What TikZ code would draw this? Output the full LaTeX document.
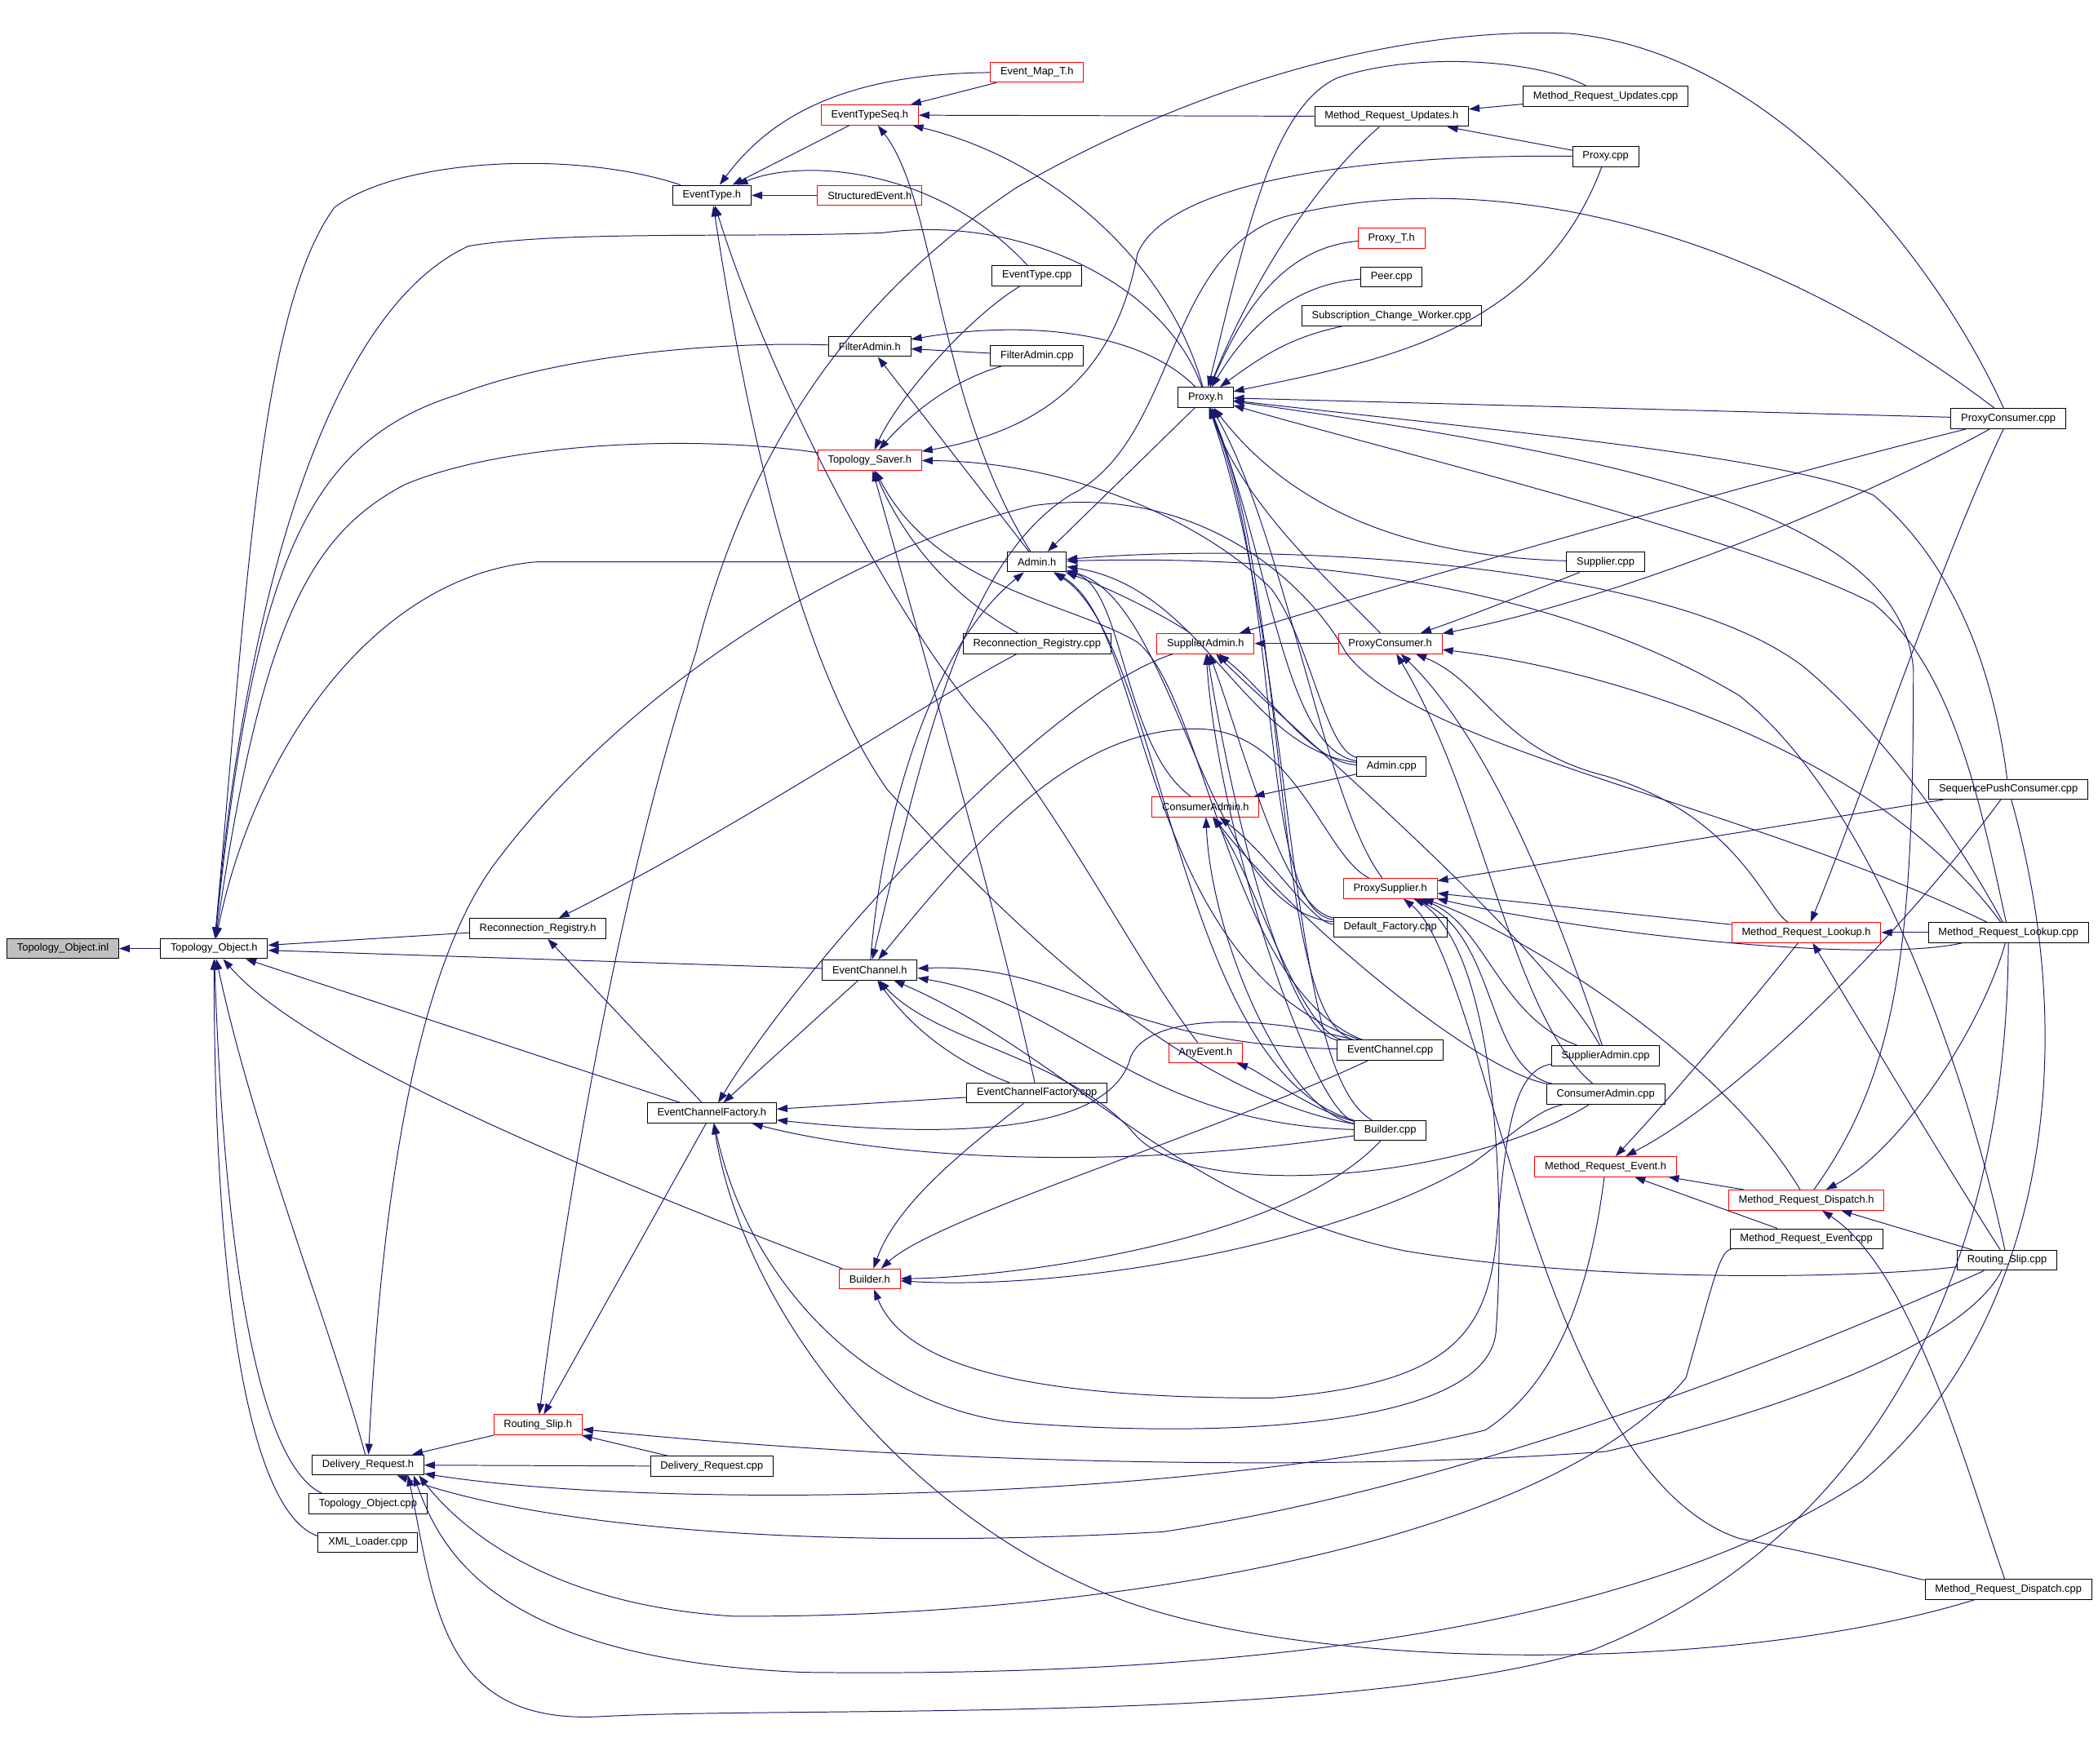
\documentclass[tikz,border=0pt]{standalone}
\usepackage{fontspec}
\setmainfont{Liberation Sans}
\usetikzlibrary{arrows.meta}
\definecolor{midblue}{RGB}{25,25,112}
\definecolor{rootgray}{RGB}{191,191,191}

\begin{document}
\begin{tikzpicture}[x=1pt,y=-1pt,
	box/.style={draw=black,line width=0.6pt,fill=white,inner xsep=7.5pt,inner ysep=0pt,minimum height=15pt,font=\fontsize{7.85}{9}\selectfont},
	redbox/.style={box,draw=red},
	inc/.style={midblue,line width=0.6pt,arrows={Triangle[length=8pt,width=5.5pt]-}}]
	
	\useasboundingbox (0,0) rectangle (1568,1318);
	
	% Nodi
	\node[box,fill=rootgray] (TOinl) at (47,709) {Topology\_Object.inl};
	\foreach \nm/\x/\y/\lab in {TOh/160/709/Topology\_Object.h, DRh/275/1095/Delivery\_Request.h,
		TOcpp/275/1124/Topology\_Object.cpp, XMLcpp/275/1153/XML\_Loader.cpp, RRh/402/694/Reconnection\_Registry.h,
		ETh/532/146/EventType.h, ECFh/532/832/EventChannelFactory.h, DRcpp/532/1096/Delivery\_Request.cpp,
		FAh/650/259/FilterAdmin.h, ECh/650/725/EventChannel.h, ETcpp/775/206/EventType.cpp,
		FAcpp/775/266/FilterAdmin.cpp, Adminh/775/420/Admin.h, RRcpp/775/481/Reconnection\_Registry.cpp,
		ECFcpp/775/817/EventChannelFactory.cpp, Proxyh/901/297/Proxy.h, MRUh/1040/87/Method\_Request\_Updates.h,
		Peercpp/1040/207/Peer.cpp, SCWcpp/1040/236/Subscription\_Change\_Worker.cpp, Admincpp/1040/573/Admin.cpp,
		DFcpp/1039/693/Default\_Factory.cpp, ECcpp/1039/785/EventChannel.cpp, Buildercpp/1039/845/Builder.cpp,
		MRUcpp/1200/72/Method\_Request\_Updates.cpp, Proxycpp/1200/117/Proxy.cpp, Suppliercpp/1200/420/Supplier.cpp,
		SAcpp/1200/789/SupplierAdmin.cpp, CAcpp/1200/818/ConsumerAdmin.cpp, MREcpp/1350/926/Method\_Request\_Event.cpp,
		PCcpp/1501/313/ProxyConsumer.cpp, SPCcpp/1501/590/SequencePushConsumer.cpp, MRLcpp/1501/697/Method\_Request\_Lookup.cpp,
		RScpp/1500/942/Routing\_Slip.cpp, MRDcpp/1501/1188/Method\_Request\_Dispatch.cpp}
		\node[box] (\nm) at (\x,\y) {\lab};
	\foreach \nm/\x/\y/\lab in {RSh/402/1065/Routing\_Slip.h, ETSh/650/86/EventTypeSeq.h, SEh/650/146/StructuredEvent.h,
		TSh/650/344/Topology\_Saver.h, Builderh/650/956/Builder.h, EMTh/775/54/Event\_Map\_T.h,
		SAh/901/481/SupplierAdmin.h, CAh/901/603/ConsumerAdmin.h, AnyEh/901/787/AnyEvent.h,
		ProxyTh/1040/178/Proxy\_T.h, PCh/1039/481/ProxyConsumer.h, PSh/1039/664/ProxySupplier.h,
		MREh/1200/872/Method\_Request\_Event.h, MRLh/1350/697/Method\_Request\_Lookup.h, MRDh/1350/897/Method\_Request\_Dispatch.h}
		\node[redbox] (\nm) at (\x,\y) {\lab};
	
	% Archi diritti
	\foreach \a/\b in {TOinl/TOh, TOh/RRh, TOh/ECh, TOh/ECFh, ETh/ETSh, ETh/SEh, ETSh/EMTh, ETSh/MRUh,
		FAh/FAcpp, FAh/Adminh, Proxyh/PCcpp, Adminh/Proxyh, ECFh/ECh, ECFh/ECFcpp, RRh/ECFh, RSh/ECFh,
		RSh/DRcpp, DRh/RSh, DRh/DRcpp, MRLh/MRLcpp, MREh/MRDh, MREh/MREcpp, MRDh/RScpp, SAh/PCh,
		CAh/Admincpp, PSh/SPCcpp, PSh/MRLh, MRUh/MRUcpp, MRUh/Proxycpp}
		\draw[inc] (\a) -- (\b);
	
	% Topology_Object.h
	\draw[inc] (TOh) .. controls (185,430) and (195,230) .. (250,155) .. controls (300,118) and (430,112) .. (ETh);
	\draw[inc] (TOh) .. controls (185,430) and (250,230) .. (350,184) .. controls (420,172) and (560,178) .. (660,174) .. controls (760,160) and (870,210) .. (Proxyh);
	\draw[inc] (TOh) .. controls (190,420) and (230,330) .. (342,295) .. controls (420,265) and (540,255) .. (FAh);
	\draw[inc] (TOh) .. controls (195,470) and (230,400) .. (303,362) .. controls (380,330) and (520,325) .. (TSh);
	\draw[inc] (TOh) .. controls (190,560) and (280,430) .. (401,420) -- (Adminh);
	\draw[inc] (TOh) .. controls (230,790) and (450,880) .. (Builderh);
	\draw[inc] (TOh) .. controls (190,850) and (250,1000) .. (DRh);
	\draw[inc] (TOh) .. controls (168,950) and (195,1095) .. ([xshift=10pt]TOcpp.north west);
	\draw[inc] (TOh) .. controls (160,960) and (185,1130) .. ([yshift=-3pt]XMLcpp.north west);
	
	% EventType.h, EventTypeSeq.h, FilterAdmin.h
	\draw[inc] (ETh) .. controls (570,95) and (620,55) .. (EMTh);
	\draw[inc] (ETh) .. controls (600,118) and (700,125) .. (ETcpp);
	\draw[inc] (ETh) .. controls (580,300) and (680,480) .. (737,541) .. controls (800,620) and (850,720) .. (AnyEh);
	\draw[inc] (ETh) .. controls (560,330) and (600,500) .. (663,590) .. controls (780,720) and (900,820) .. (Buildercpp);
	\draw[inc] (ETSh) .. controls (790,120) and (875,200) .. (Proxyh);
	\draw[inc] (ETSh) .. controls (700,150) and (700,300) .. (Adminh);
	\draw[inc] (FAh) .. controls (760,240) and (850,245) .. (Proxyh);
	
	% Topology_Saver.h
	\draw[inc] (TSh) .. controls (670,300) and (720,240) .. (ETcpp);
	\draw[inc] (TSh) .. controls (680,310) and (710,285) .. (FAcpp);
	\draw[inc] (TSh) .. controls (790,320) and (835,270) .. (850,190) .. controls (870,140) and (1000,115) .. (Proxycpp);
	\draw[inc] (TSh) .. controls (670,390) and (700,440) .. (RRcpp);
	\draw[inc] (TSh) .. controls (680,450) and (750,700) .. (ECFcpp);
	\draw[inc] (TSh) .. controls (700,440) and (800,450) .. (850,480) .. controls (900,520) and (920,740) .. (ECcpp);
	\draw[inc] (TSh) .. controls (800,345) and (900,390) .. (950,440) .. controls (980,480) and (990,560) .. (Admincpp);
	
	% Proxy.h
	\draw[inc] (Proxyh) .. controls (940,200) and (990,130) .. (MRUh);
	\draw[inc] (Proxyh) .. controls (930,180) and (950,80) .. (1000,58) .. controls (1060,38) and (1150,45) .. (MRUcpp);
	\draw[inc] (Proxyh) .. controls (1030,270) and (1150,250) .. (Proxycpp);
	\draw[inc] (Proxyh) .. controls (930,230) and (960,185) .. (ProxyTh);
	\draw[inc] (Proxyh) .. controls (935,240) and (970,212) .. (Peercpp);
	\draw[inc] (Proxyh) .. controls (945,265) and (965,252) .. (SCWcpp);
	\draw[inc] (Proxyh) .. controls (1100,320) and (1330,340) .. (1400,370) .. controls (1460,420) and (1490,500) .. (SPCcpp);
	\draw[inc] (Proxyh) .. controls (1050,340) and (1300,400) .. (1400,451) .. controls (1460,500) and (1480,600) .. (MRLcpp);
	\draw[inc] (Proxyh) .. controls (950,360) and (1020,415) .. (Suppliercpp);
	\draw[inc] (Proxyh) .. controls (930,380) and (1000,440) .. (PCh);
	\draw[inc] (Proxyh) .. controls (960,400) and (990,600) .. (PSh);
	\draw[inc] (Proxyh) .. controls (950,420) and (960,560) .. (Admincpp);
	\draw[inc] (Proxyh) .. controls (960,450) and (940,680) .. (DFcpp);
	\draw[inc] (Proxyh) .. controls (965,450) and (950,760) .. (ECcpp);
	\draw[inc] (Proxyh) .. controls (970,500) and (960,800) .. (Buildercpp);
	\draw[inc] (Proxyh) .. controls (1200,340) and (1420,380) .. (1430,500) .. controls (1430,700) and (1420,800) .. (MRDh);
	
	% Admin.h
	\draw[inc] (Adminh) .. controls (830,440) and (870,460) .. (SAh);
	\draw[inc] (Adminh) .. controls (840,440) and (840,560) .. (CAh);
	\draw[inc] (Adminh) .. controls (900,440) and (930,560) .. (Admincpp);
	\draw[inc] (Adminh) .. controls (860,470) and (850,720) .. (ECcpp);
	\draw[inc] (Adminh) .. controls (880,450) and (900,680) .. (DFcpp);
	\draw[inc] (Adminh) .. controls (870,480) and (880,800) .. (Buildercpp);
	\draw[inc] (Adminh) .. controls (950,405) and (1250,420) .. (1350,500) .. controls (1420,560) and (1470,640) .. (MRLcpp);
	\draw[inc] (Adminh) .. controls (950,415) and (1150,430) .. (1300,520) .. controls (1400,600) and (1470,800) .. (RScpp);
	\draw[inc] (Adminh) .. controls (700,480) and (660,600) .. (ECh);
	
	% EventChannel.h, EventChannelFactory.h
	\draw[inc] (ECh) .. controls (690,560) and (720,420) .. (800,370) .. controls (880,330) and (870,190) .. (960,162) .. controls (1100,125) and (1300,160) .. (PCcpp);
	\draw[inc] (ECh) .. controls (720,640) and (800,540) .. (900,545) .. controls (970,550) and (990,640) .. (PSh);
	\draw[inc] (ECh) .. controls (800,720) and (830,780) .. (ECcpp);
	\draw[inc] (ECh) .. controls (800,750) and (850,840) .. (Buildercpp);
	\draw[inc] (ECh) .. controls (700,780) and (800,790) .. (850,850) .. controls (900,900) and (1100,880) .. (CAcpp);
	\draw[inc] (ECh) .. controls (690,780) and (730,800) .. (ECFcpp);
	\draw[inc] (ECh) .. controls (800,790) and (880,900) .. (1050,935) .. controls (1200,960) and (1400,955) .. (RScpp);
	\draw[inc] (ECFh) .. controls (700,850) and (830,850) .. (845,790) .. controls (860,755) and (950,760) .. (ECcpp);
	\draw[inc] (ECFh) .. controls (640,860) and (800,880) .. (Buildercpp);
	\draw[inc] (ECFh) .. controls (560,1000) and (700,1150) .. (850,1200) .. controls (1000,1250) and (1300,1250) .. (MRDcpp);
	\draw[inc] (ECFh) .. controls (560,960) and (650,1050) .. (756,1063) .. controls (900,1075) and (1110,1070) .. (1118,996) .. controls (1125,900) and (1120,700) .. (PSh);
	\draw[inc] (ECFh) .. controls (600,720) and (780,520) .. (SAh);
	\draw[inc] (RRh) .. controls (550,620) and (700,520) .. (RRcpp);
	
	% Builder.h, Routing_Slip.h
	\draw[inc] (Builderh) .. controls (670,900) and (720,860) .. (ECFcpp);
	\draw[inc] (Builderh) .. controls (700,910) and (900,850) .. (ECcpp);
	\draw[inc] (Builderh) .. controls (750,955) and (960,930) .. (Buildercpp);
	\draw[inc] (Builderh) .. controls (800,965) and (1000,930) .. (1100,870) .. controls (1140,840) and (1150,830) .. (CAcpp);
	\draw[inc] (Builderh) .. controls (680,1030) and (800,1045) .. (950,1045) .. controls (1080,1035) and (1110,1000) .. (1118,930) .. controls (1125,850) and (1130,800) .. (SAcpp);
	\draw[inc] (RSh) .. controls (430,850) and (470,640) .. (520,488) .. controls (560,330) and (640,220) .. (760,140) .. controls (900,60) and (1050,20) .. (1173,25) .. controls (1330,40) and (1450,200) .. (PCcpp);
	\draw[inc] (RSh) .. controls (700,1095) and (1000,1100) .. (1200,1085) .. controls (1350,1050) and (1470,1000) .. (RScpp);
	
	% Delivery_Request.h
	\draw[inc] (DRh) .. controls (285,900) and (310,720) .. (374,640) .. controls (450,540) and (600,420) .. (772,378) .. controls (900,360) and (980,440) .. (1006,488) .. controls (1060,560) and (1300,600) .. (MRLcpp);
	\draw[inc] (DRh) .. controls (500,1130) and (900,1120) .. (1110,1069) .. controls (1170,1030) and (1190,950) .. (MREh);
	\draw[inc] (DRh) .. controls (400,1140) and (600,1160) .. (869,1145) .. controls (1100,1110) and (1350,1010) .. (RScpp);
	\draw[inc] ([xshift=-4pt]DRh.south east) .. controls (350,1150) and (420,1200) .. (547,1208) .. controls (800,1210) and (1150,1160) .. (1260,1030) .. controls (1280,960) and (1285,935) .. (MREcpp);
	\draw[inc] ([xshift=-8pt]DRh.south east) .. controls (330,1160) and (370,1240) .. (600,1250) .. controls (1000,1255) and (1250,1200) .. (1392,1107) .. controls (1520,1000) and (1560,800) .. (SPCcpp);
	\draw[inc] ([xshift=-12pt]DRh.south east) .. controls (325,1200) and (330,1290) .. (450,1283) .. controls (600,1275) and (1000,1290) .. (1191,1233) .. controls (1400,1150) and (1500,950) .. (MRLcpp);
	
	% Method_Request_*
	\draw[inc] (MRLh) .. controls (1390,600) and (1450,420) .. (PCcpp);
	\draw[inc] (MRLh) .. controls (1400,780) and (1460,880) .. (RScpp);
	\draw[inc] (MREh) .. controls (1240,830) and (1300,760) .. (MRLh);
	\draw[inc] (MREh) .. controls (1300,820) and (1420,700) .. (SPCcpp);
	\draw[inc] (MRDh) .. controls (1420,860) and (1480,770) .. (MRLcpp);
	\draw[inc] (MRDh) .. controls (1430,950) and (1470,1100) .. (MRDcpp);
	
	% SupplierAdmin.h, ProxyConsumer.h, ConsumerAdmin.h, ProxySupplier.h
	\draw[inc] (SAh) .. controls (1100,420) and (1350,350) .. (PCcpp);
	\draw[inc] (SAh) .. controls (950,520) and (980,570) .. (Admincpp);
	\draw[inc] (SAh) .. controls (930,560) and (960,680) .. (DFcpp);
	\draw[inc] (SAh) .. controls (920,600) and (960,770) .. (ECcpp);
	\draw[inc] (SAh) .. controls (910,620) and (980,830) .. (Buildercpp);
	\draw[inc] (SAh) .. controls (960,540) and (1150,700) .. (SAcpp);
	\draw[inc] (PCh) .. controls (1100,460) and (1150,440) .. (Suppliercpp);
	\draw[inc] (PCh) .. controls (1200,450) and (1380,380) .. (PCcpp);
	\draw[inc] (PCh) .. controls (1110,510) and (1120,560) .. (1200,580) .. controls (1300,610) and (1320,680) .. (MRLh);
	\draw[inc] (PCh) .. controls (1200,500) and (1400,560) .. (MRLcpp);
	\draw[inc] (PCh) .. controls (1120,560) and (1170,700) .. (SAcpp);
	\draw[inc] (PCh) .. controls (1110,600) and (1130,760) .. (CAcpp);
	\draw[inc] (CAh) .. controls (950,640) and (980,690) .. (DFcpp);
	\draw[inc] (CAh) .. controls (940,660) and (970,770) .. (ECcpp);
	\draw[inc] (CAh) .. controls (905,700) and (960,830) .. (Buildercpp);
	\draw[inc] (CAh) .. controls (960,680) and (1100,800) .. (CAcpp);
	\draw[inc] (PSh) .. controls (1200,700) and (1400,720) .. (MRLcpp);
	\draw[inc] (PSh) .. controls (1110,690) and (1120,760) .. (SAcpp);
	\draw[inc] (PSh) .. controls (1120,700) and (1110,800) .. (CAcpp);
	\draw[inc] (PSh) .. controls (1120,690) and (1280,780) .. (MRDh);
	\draw[inc] (PSh) .. controls (1110,720) and (1150,1100) .. (1300,1150) .. controls (1400,1170) and (1430,1180) .. (MRDcpp);
	\draw[inc] (AnyEh) .. controls (940,800) and (980,830) .. (Buildercpp);
	
\end{tikzpicture}
\end{document}
